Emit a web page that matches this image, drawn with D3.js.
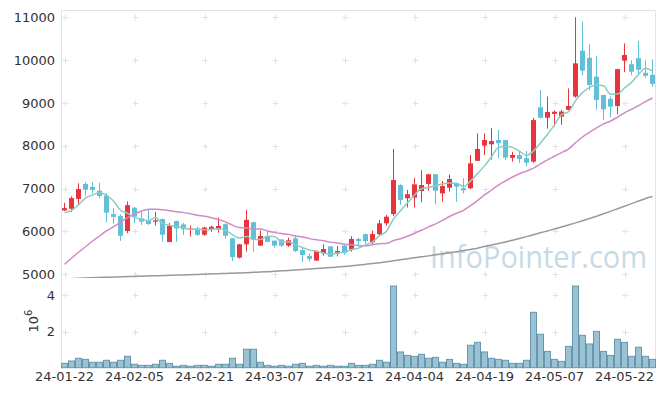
<!DOCTYPE html>
<html>
<head>
<meta charset="utf-8">
<script src="https://cdn.jsdelivr.net/npm/d3@7"></script>
<style>
body{margin:0;background:#fff}
text{font-family:"DejaVu Sans",sans-serif}
</style>
</head>
<body>
<svg id="chart"></svg>
<script>
const width=665;
const height=396;

// trading days (yy-mm-dd)
const dates=['24-01-22','24-01-23','24-01-24','24-01-25','24-01-26','24-01-29','24-01-30','24-01-31','24-02-01','24-02-02',
'24-02-05','24-02-06','24-02-07','24-02-08','24-02-13','24-02-14','24-02-15','24-02-16','24-02-19','24-02-20',
'24-02-21','24-02-22','24-02-23','24-02-26','24-02-27','24-02-28','24-02-29','24-03-04','24-03-05','24-03-06',
'24-03-07','24-03-08','24-03-11','24-03-12','24-03-13','24-03-14','24-03-15','24-03-18','24-03-19','24-03-20',
'24-03-21','24-03-22','24-03-25','24-03-26','24-03-27','24-03-28','24-03-29','24-04-01','24-04-02','24-04-03',
'24-04-04','24-04-05','24-04-08','24-04-09','24-04-11','24-04-12','24-04-15','24-04-16','24-04-17','24-04-18',
'24-04-19','24-04-22','24-04-23','24-04-24','24-04-25','24-04-26','24-04-29','24-04-30','24-05-02','24-05-03',
'24-05-07','24-05-08','24-05-09','24-05-10','24-05-13','24-05-14','24-05-16','24-05-17','24-05-20','24-05-21',
'24-05-22','24-05-23','24-05-24','24-05-27','24-05-28'];

const open=[6490,6530,6760,7110,7040,6950,6835,6405,6360,6010,
6555,6305,6245,6230,6290,5755,6245,6165,6050,6070,
5925,6060,6050,6170,5840,5390,5700,6215,5670,5895,
5785,5815,5670,5840,5565,5430,5320,5490,5650,5505,
5670,5580,5825,5935,5750,5935,6190,6405,7085,6775,
6790,6945,7110,7335,6890,7020,7125,7010,7010,7650,
8005,8035,8135,8135,7720,7785,7710,7630,8900,8655,
8745,8680,8840,9150,10220,10055,9615,9185,9095,8930,
9990,9905,10045,9705,9655];
const high=[6670,6820,7125,7150,7150,7140,6890,6550,6400,6700,
6570,6450,6500,6460,6300,6200,6250,6200,6140,6110,
6110,6135,6330,6190,5850,5710,6500,6230,6020,6010,
5790,5820,5855,5915,5620,5490,5555,5700,5660,5660,
5680,5890,5850,5955,6020,6270,6385,7925,7100,6970,
7250,7430,7345,7345,7180,7330,7135,7240,7785,8290,
8290,8410,8370,8140,7860,7860,7880,8650,9300,9150,
8830,8840,9340,11000,10900,10370,10100,9190,9150,9800,
10390,10000,10450,10000,10020];
const low=[6475,6460,6620,6835,6890,6775,6215,6180,5780,5960,
6200,6150,6150,6140,5760,5745,5760,5920,5880,5900,
5895,5990,5970,5825,5310,5370,5530,5530,5660,5745,
5620,5640,5640,5515,5290,5300,5310,5435,5405,5420,
5450,5530,5645,5670,5700,5900,6135,6360,6620,6560,
6560,6680,6950,6635,6695,6930,6690,6890,6990,7645,
7785,7680,7710,7665,7630,7600,7520,7600,8640,8400,
8450,8490,8830,9125,9650,9300,8850,8600,8660,8735,
9720,9650,9650,9590,9380];
const close=[6545,6780,6990,6975,6970,6830,6440,6340,5900,6615,
6345,6230,6175,6260,5925,6135,6070,6050,6070,5920,
6090,6110,6130,5900,5400,5700,6270,5810,5895,5760,
5670,5670,5795,5545,5450,5360,5545,5590,5410,5545,
5500,5825,5775,5775,5940,6190,6345,7200,6735,6870,
7100,7085,7335,6950,7060,7225,7045,6960,7590,7925,
8135,8110,8060,7725,7785,7690,7605,8600,8655,8790,
8795,8800,8930,9925,9755,9420,9070,8850,8915,9790,
10120,9730,9775,9635,9445];

// volume, millions of shares
const volume=[0.24,0.37,0.52,0.46,0.30,0.30,0.41,0.30,0.41,0.63,
0.19,0.13,0.13,0.19,0.41,0.24,0.08,0.13,0.08,0.13,
0.13,0.08,0.19,0.19,0.52,0.19,1.02,1.02,0.30,0.13,
0.08,0.13,0.08,0.19,0.24,0.08,0.13,0.08,0.13,0.08,
0.08,0.24,0.13,0.13,0.19,0.41,0.30,4.51,0.87,0.68,
0.63,0.74,0.52,0.57,0.30,0.46,0.24,0.19,1.24,1.40,
0.87,0.52,0.46,0.41,0.24,0.24,0.41,3.06,1.85,0.90,
0.46,0.35,1.18,4.51,1.79,1.31,2.01,0.90,0.68,1.57,
1.40,0.63,1.13,0.63,0.46];

// moving averages
const ma5=[6440,6490,6620,6780,6852,6909,6841,6711,6496,6425,
6328,6286,6253,6325,6187,6145,6113,6088,6050,6049,
6040,6048,6064,6030,5926,5848,5880,5816,5815,5887,
5881,5761,5758,5688,5626,5564,5539,5498,5471,5490,
5518,5574,5611,5684,5763,5901,6005,6290,6482,6668,
6850,6998,7025,7068,7106,7131,7123,7048,7176,7349,
7531,7744,7964,7991,7963,7874,7773,7881,8067,8268,
8489,8728,8794,9048,9241,9366,9420,9404,9202,9209,
9349,9481,9666,9810,9741];
const ma20=[5233,5374,5514,5644,5777,5894,6011,6111,6214,6322,
6408,6478,6518,6520,6505,6485,6462,6440,6412,6378,
6356,6322,6279,6225,6147,6090,6082,6055,6055,6012,
5979,5951,5932,5896,5872,5833,5807,5784,5751,5732,
5703,5689,5671,5665,5692,5716,5720,5789,5831,5887,
5958,6029,6106,6176,6257,6350,6425,6494,6603,6722,
6853,6968,7082,7179,7272,7347,7410,7480,7576,7672,
7756,7842,7922,8071,8205,8315,8416,8511,8577,8670,
8770,8851,8936,9032,9115];
const ma120=[4885,4898,4910,4916,4921,4926,4931,4936,4941,4946,
4951,4956,4961,4966,4971,4976,4981,4986,4991,4996,
5001,5007,5013,5019,5025,5031,5037,5045,5053,5061,
5070,5080,5090,5100,5111,5122,5133,5145,5157,5170,
5184,5199,5215,5232,5250,5270,5292,5315,5338,5361,
5384,5407,5430,5454,5478,5503,5528,5554,5581,5609,
5650,5683,5718,5755,5795,5837,5880,5924,5968,6013,
6058,6104,6151,6200,6250,6302,6356,6412,6470,6530,
6590,6650,6710,6770,6815];

const priceTicks=[5000,6000,7000,8000,9000,10000,11000];
const volTicks=[2,4];
const labelStep=10;

const plotLeft=61, plotRight=656, plotTop=10, plotBottom=368;
const upColour='#e8343c', downColour='#62bfd8';

const svg=d3.select('#chart')
    .attr('width',width)
    .attr('height',height);

const scaleX=d3.scaleBand()
    .domain(dates)
    .range([plotLeft,plotRight]);
const scaleY=d3.scaleLinear()
    .domain([5000,11000])
    .range([274.3,17.3]);
const scaleV=d3.scaleLinear()
    .domain([0,4])
    .range([367.7,295.3]);

const cx=d=> scaleX(d)+scaleX.bandwidth()/2;
const labelDates=dates.filter((d,i)=> i%labelStep===0);

svg.append('clipPath')
    .attr('id','priceClip')
  .append('rect')
    .attr('x',plotLeft)
    .attr('y',plotTop)
    .attr('width',plotRight-plotLeft)
    .attr('height',268);

// grid: small crosses where the grid lines meet
const gridYs=priceTicks.map(scaleY).concat(volTicks.map(scaleV));
const crosses=svg.append('g').attr('stroke','#e2e2e2').attr('stroke-width',1);
labelDates.forEach(d=> {
  gridYs.forEach(y=> {
    const x=Math.round(cx(d))+0.5, yy=Math.round(y)+0.5;
    crosses.append('line').attr('x1',x-3).attr('x2',x+3).attr('y1',yy).attr('y2',yy);
    crosses.append('line').attr('x1',x).attr('x2',x).attr('y1',yy-3).attr('y2',yy+3);
  });
});

// watermark
svg.append('text')
    .attr('x',430)
    .attr('y',268)
    .attr('textLength',217)
    .attr('lengthAdjust','spacingAndGlyphs')
    .style('font-family','"Open Sans",sans-serif')
    .style('font-size','31px')
    .attr('fill','#c6dae5')
    .text('InfoPointer.com');

// frame
svg.append('path')
    .attr('d',`M${plotLeft+0.5},${plotBottom}V${plotTop+0.5}H${plotRight-0.5}V${plotBottom}`)
    .attr('fill','none')
    .attr('stroke','#e3e3e3');

// volume bars
svg.append('g')
  .selectAll('rect')
  .data(dates)
  .enter()
  .append('rect')
    .attr('x',d=> scaleX(d)+0.5)
    .attr('width',scaleX.bandwidth()-1)
    .attr('y',(d,i)=> scaleV(volume[i]))
    .attr('height',(d,i)=> scaleV(0)-scaleV(volume[i]))
    .attr('fill','#9bc2d3')
    .attr('stroke','#6797b0')
    .attr('stroke-width',1);

const price=svg.append('g').attr('clip-path','url(#priceClip)');

// candles
const candles=price.selectAll('g.candle')
  .data(dates)
  .enter()
  .append('g')
    .attr('fill',(d,i)=> close[i]>=open[i] ? upColour : downColour)
    .attr('stroke',(d,i)=> close[i]>=open[i] ? upColour : downColour);

candles.append('line')
    .attr('x1',d=> Math.floor(cx(d))+0.5)
    .attr('x2',d=> Math.floor(cx(d))+0.5)
    .attr('y1',(d,i)=> scaleY(high[i]))
    .attr('y2',(d,i)=> scaleY(low[i]))
    .attr('stroke-width',1);

candles.append('rect')
    .attr('x',d=> Math.floor(cx(d))-2)
    .attr('width',5)
    .attr('y',(d,i)=> scaleY(Math.max(open[i],close[i])))
    .attr('height',(d,i)=> Math.max(1,Math.abs(scaleY(open[i])-scaleY(close[i]))))
    .attr('stroke','none');

// moving average lines
const maLine=series=> d3.line()
    .x(d=> cx(d))
    .y((d,i)=> scaleY(series[i]))
    .curve(d3.curveMonotoneX)(dates);

[[ma120,'#999999'],[ma20,'#d08ac8'],[ma5,'#8accc0']].forEach(([s,c])=> {
  price.append('path')
      .attr('d',maLine(s))
      .attr('fill','none')
      .attr('stroke',c)
      .attr('stroke-width',1.5);
});

// axes
const styleAxis=g=> {
  g.select('.domain').remove();
  g.selectAll('text')
      .attr('fill','#333')
      .style('font-family','"DejaVu Sans",sans-serif')
      .style('font-size','13px');
};

svg.append('g')
    .attr('transform',`translate(${plotLeft},0)`)
    .call(d3.axisLeft(scaleY).tickValues(priceTicks).tickFormat(d3.format('d')).tickSize(0).tickPadding(6))
    .call(styleAxis);

svg.append('g')
    .attr('transform',`translate(${plotLeft},0)`)
    .call(d3.axisLeft(scaleV).tickValues(volTicks).tickFormat(d3.format('d')).tickSize(0).tickPadding(6))
    .call(styleAxis);

svg.append('g')
    .attr('transform',`translate(0,${plotBottom})`)
    .call(d3.axisBottom(scaleX).tickValues(labelDates).tickSize(0).tickPadding(4))
    .call(styleAxis);

// volume unit label
const unit=svg.append('text')
    .attr('transform','translate(38,321) rotate(-90)')
    .attr('text-anchor','middle')
    .attr('fill','#333')
    .style('font-size','13px');
unit.append('tspan').text('10');
unit.append('tspan')
    .attr('dy','-6')
    .style('font-size','10px')
    .text('6');
</script>
</body>
</html>
